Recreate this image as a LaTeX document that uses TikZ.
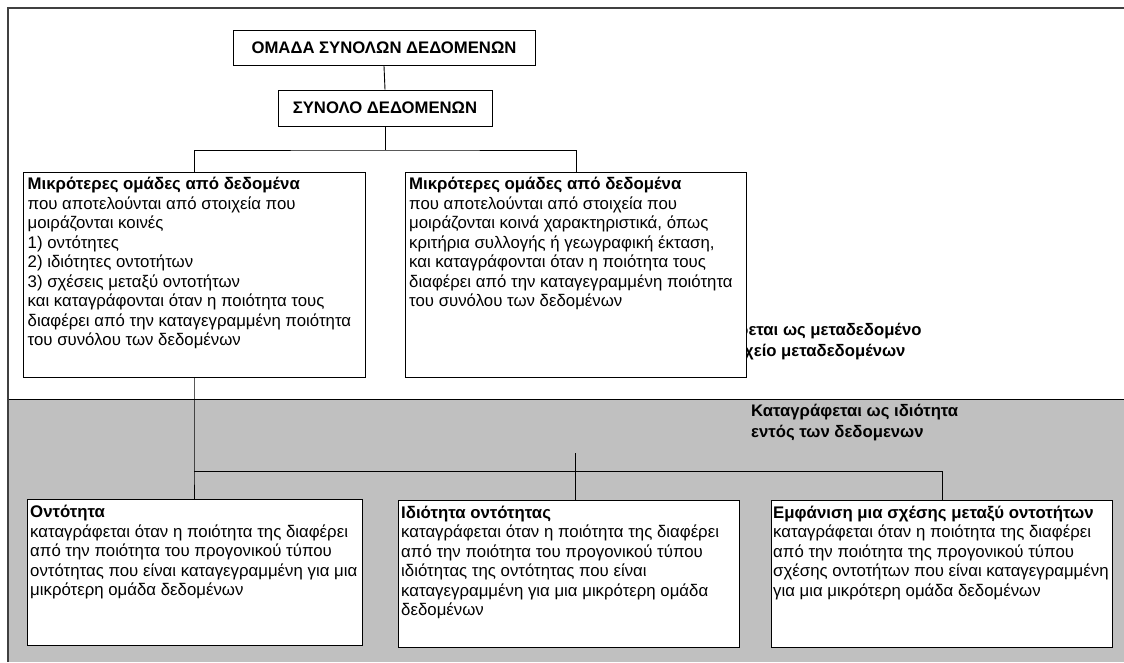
\documentclass[tikz,border=0pt]{standalone}
\usepackage{fontspec}
\setmainfont{Liberation Sans}
\newcommand\bodysize{\fontsize{16.8}{19.5}\selectfont}
\newcommand\headsize{\fontsize{16.7}{19}\selectfont\bfseries}
\newcommand\firstline{\rule{0pt}{13pt}}
\definecolor{panelgray}{HTML}{C0C0C0}
\definecolor{framegray}{HTML}{404040}

\begin{document}
\begin{tikzpicture}[x=1pt,y=-1pt,
  frameline/.style={draw=framegray, line width=1.3pt},
  wire/.style={draw=black, line width=0.9pt},
  headbox/.style={draw=black, fill=white, line width=0.9pt, font=\headsize, inner sep=0pt},
  panel/.style={draw=black, fill=white, line width=0.9pt, anchor=north west, inner sep=0pt},
  body/.style={anchor=north west, inner sep=0pt, align=left, font=\bodysize},
  note/.style={anchor=north west, inner sep=0pt, align=left, font=\fontsize{16.7}{21}\selectfont\bfseries}]

\useasboundingbox (0,0) rectangle (1124,662);
\fill[white] (0,0) rectangle (1124,662);

% lower band: properties stored within the data
\fill[panelgray] (8,399) rectangle (1124,662);
\draw[draw=black, line width=1pt] (8,399) -- (1124,399);
\draw[frameline] (1124,8) -- (8,8) -- (8,662);

% hierarchy heads
\node[headbox, minimum width=302pt, minimum height=35pt] (group) at (384,48) {ΟΜΑΔΑ ΣΥΝΟΛΩΝ ΔΕΔΟΜΕΝΩΝ};
\node[headbox, minimum width=214pt, minimum height=36pt] (set) at (385,108) {ΣΥΝΟΛΟ ΔΕΔΟΜΕΝΩΝ};

% metadata note, partly covered by the right panel
\node[note] (metaA) at (738,322) {\firstline ρεται ως μεταδεδομένο};
\node[note] (metaB) at (744,343) {\firstline χείο μεταδεδομένων};

% property note
\node[note] (propnote) at (751,403) {\firstline Καταγράφεται ως ιδιότητα\\εντός των δεδομενων};

% connectors
\coordinate (split) at (385,150);
\coordinate (stub) at (575,453);
\coordinate (fork) at (194,471);

% smaller groups
\node[panel, minimum width=342pt, minimum height=205pt] (subL) at (23,172) {};
\node[panel, minimum width=341pt, minimum height=205pt] (subR) at (405,172) {};

\node[body] (subLtext) at (27.5,176.5) {\firstline\textbf{Μικρότερες ομάδες από δεδομένα}\\
που αποτελούνται από στοιχεία που\\
μοιράζονται κοινές\\
1) οντότητες\\
2) ιδιότητες οντοτήτων\\
3) σχέσεις μεταξύ οντοτήτων\\
και καταγράφονται όταν η ποιότητα τους\\
διαφέρει από την καταγεγραμμένη ποιότητα\\
του συνόλου των δεδομένων};

\node[body] (subRtext) at (409,176.5) {\firstline\textbf{Μικρότερες ομάδες από δεδομένα}\\
που αποτελούνται από στοιχεία που\\
μοιράζονται κοινά χαρακτηριστικά, όπως\\
κριτήρια συλλογής ή γεωγραφική έκταση,\\
και καταγράφονται όταν η ποιότητα τους\\
διαφέρει από την καταγεγραμμένη ποιότητα\\
του συνόλου των δεδομένων};

% instances
\node[panel, minimum width=335pt, minimum height=146pt] (entA) at (27,499) {};
\node[panel, minimum width=341pt, minimum height=147pt] (entB) at (398,500) {};
\node[panel, minimum width=341pt, minimum height=147pt] (entC) at (771,500) {};

\node[body] (entAtext) at (30,504.5) {\firstline\textbf{Οντότητα}\\
καταγράφεται όταν η ποιότητα της διαφέρει\\
από την ποιότητα του προγονικού τύπου\\
οντότητας που είναι καταγεγραμμένη για μια\\
μικρότερη ομάδα δεδομένων};

\node[body] (entBtext) at (401,505) {\firstline\textbf{Ιδιότητα οντότητας}\\
καταγράφεται όταν η ποιότητα της διαφέρει\\
από την ποιότητα του προγονικού τύπου\\
ιδιότητας της οντότητας που είναι\\
καταγεγραμμένη για μια μικρότερη ομάδα\\
δεδομένων};

\node[body] (entCtext) at (773,505) {\firstline\textbf{Εμφάνιση μια σχέσης μεταξύ οντοτήτων}\\
καταγράφεται όταν η ποιότητα της διαφέρει\\
από την ποιότητα της προγονικού τύπου\\
σχέσης οντοτήτων που είναι καταγεγραμμένη\\
για μια μικρότερη ομάδα δεδομένων};

\draw[wire] (group.south) -- (set.north);
\draw[wire] (set.south) -- (split);
\draw[wire] (subL.north -| fork) |- (split) -| (subR.north);
\draw[wire] (subL.south -| fork) -- (fork) -- (entA.north -| fork);
\draw[wire] (fork) -| (entC.north);
\draw[wire] (stub) -- (stub |- entB.north);

\end{tikzpicture}
\end{document}
